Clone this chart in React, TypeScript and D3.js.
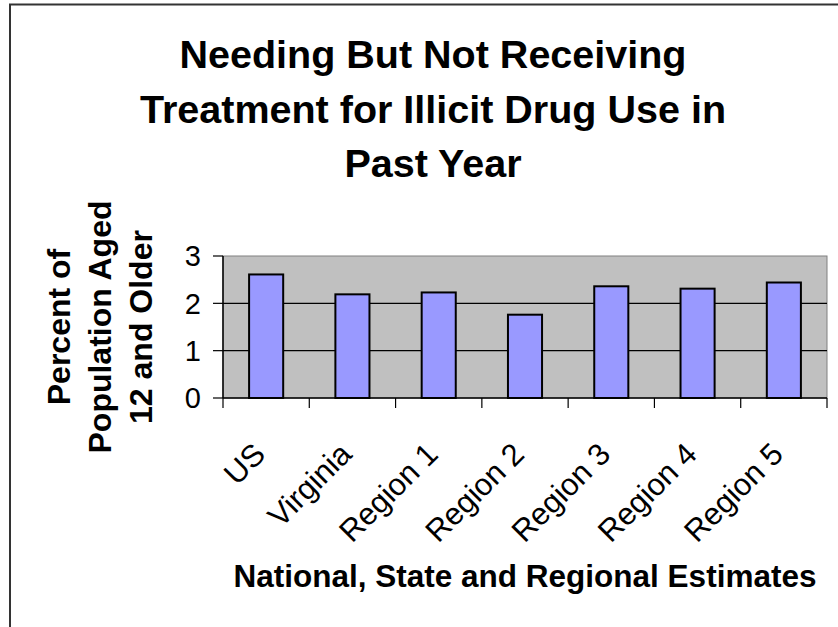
import React from "react";
import * as d3 from "d3";

const categories = ["US", "Virginia", "Region 1", "Region 2", "Region 3", "Region 4", "Region 5"];
const values = [2.61, 2.19, 2.23, 1.76, 2.36, 2.31, 2.44];
const yTicks = [0, 1, 2, 3];
const titleLines = ["Needing But Not Receiving", "Treatment for Illicit Drug Use in", "Past Year"];
const yTitleLines = ["Percent of", "Population Aged", "12 and Older"];
const xTitle = "National, State and Regional Estimates";

const W = 838;
const H = 627;
const plot = { left: 223, right: 827, top: 256, bottom: 398 };
const FONT = "'Liberation Sans', Arial, Helvetica, sans-serif";

export default function App() {
  const x = d3.scaleBand<string>().domain(categories).range([plot.left, plot.right]).padding(0);
  const y = d3.scaleLinear().domain([0, 3]).range([plot.bottom, plot.top]);
  const barW = x.bandwidth() * 0.395;
  const boundaries = [...categories.map((c) => x(c) as number), plot.right];
  const yMid = (plot.top + plot.bottom) / 2;

  return (
    <svg
      width={W}
      height={H}
      style={{ position: "absolute", left: 0, top: 0, background: "#fff" }}
      fontFamily={FONT}
    >
      {/* chart frame */}
      <rect x={10} y={4.5} width={W + 20} height={H + 20} fill="#fff" stroke="#333" strokeWidth={2} />

      {/* title */}
      {titleLines.map((t, i) => (
        <text key={t} x={433} y={68 + i * 54.5} textAnchor="middle" fontSize={39.5} fontWeight="bold" fill="#000">
          {t}
        </text>
      ))}

      {/* plot area */}
      <rect
        x={plot.left}
        y={plot.top}
        width={plot.right - plot.left}
        height={plot.bottom - plot.top}
        fill="#C0C0C0"
        stroke="#808080"
        strokeWidth={1}
      />
      {yTicks
        .filter((t) => t > 0 && t < 3)
        .map((t) => (
          <line key={t} x1={plot.left} x2={plot.right} y1={y(t)} y2={y(t)} stroke="#000" strokeWidth={1.2} />
        ))}

      {/* bars */}
      {categories.map((c, i) => {
        const cx = (x(c) as number) + x.bandwidth() / 2;
        return (
          <rect
            key={c}
            x={cx - barW / 2}
            y={y(values[i])}
            width={barW}
            height={y(0) - y(values[i])}
            fill="#9999FF"
            stroke="#000"
            strokeWidth={2}
          />
        );
      })}

      {/* axes */}
      <line x1={plot.left} x2={plot.left} y1={plot.top} y2={plot.bottom} stroke="#000" strokeWidth={1.5} />
      <line x1={plot.left} x2={plot.right} y1={plot.bottom} y2={plot.bottom} stroke="#000" strokeWidth={1.5} />
      {yTicks.map((t) => (
        <g key={t}>
          <line x1={plot.left - 10} x2={plot.left} y1={y(t)} y2={y(t)} stroke="#000" strokeWidth={1.2} />
          <text x={201} y={y(t)} dy="0.36em" textAnchor="end" fontSize={29} fill="#000">
            {t}
          </text>
        </g>
      ))}
      {boundaries.map((b, i) => (
        <line key={i} x1={b} x2={b} y1={plot.bottom} y2={plot.bottom + 10} stroke="#000" strokeWidth={1.2} />
      ))}
      {categories.map((c) => {
        const cx = (x(c) as number) + x.bandwidth() / 2;
        return (
          <text
            key={c}
            transform={`translate(${cx + 1},456) rotate(-45)`}
            textAnchor="end"
            fontSize={31}
            fill="#000"
          >
            {c}
          </text>
        );
      })}

      {/* axis titles */}
      {yTitleLines.map((t, i) => (
        <text
          key={t}
          transform={`translate(${70 + i * 41},${yMid}) rotate(-90)`}
          textAnchor="middle"
          fontSize={32}
          fontWeight="bold"
          fill="#000"
        >
          {t}
        </text>
      ))}
      <text x={525} y={587} textAnchor="middle" fontSize={31.5} fontWeight="bold" fill="#000">
        {xTitle}
      </text>
    </svg>
  );
}
